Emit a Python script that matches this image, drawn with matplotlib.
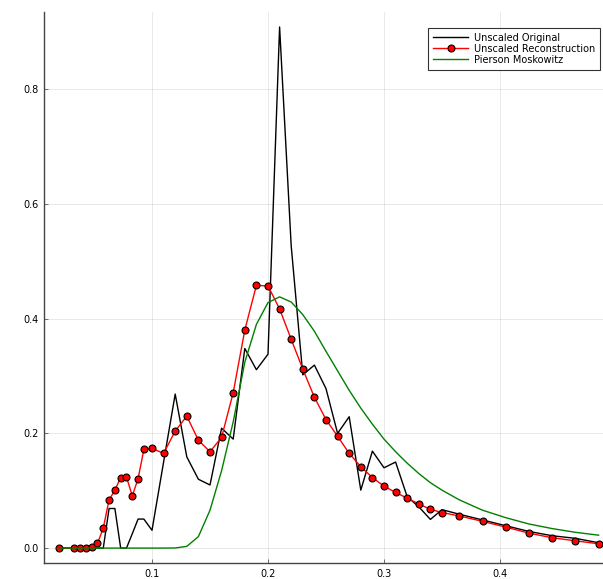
import matplotlib
matplotlib.use("Agg")
import matplotlib.pyplot as plt

freq = [0.02, 0.033, 0.038, 0.043, 0.048, 0.053, 0.058, 0.063, 0.068, 0.073,
        0.078, 0.083, 0.088, 0.093, 0.10, 0.11, 0.12, 0.13, 0.14, 0.15,
        0.16, 0.17, 0.18, 0.19, 0.20, 0.21, 0.22, 0.23, 0.24, 0.25,
        0.26, 0.27, 0.28, 0.29, 0.30, 0.31, 0.32, 0.33, 0.34, 0.35,
        0.365, 0.385, 0.405, 0.425, 0.445, 0.465, 0.485]

original = [0, 0, 0, 0, 0, 0, 0, 0.069, 0.069, 0,
            0, 0.025, 0.0506, 0.0506, 0.031, 0.15, 0.2685, 0.159, 0.120, 0.110,
            0.209, 0.190, 0.348, 0.311, 0.338, 0.9085, 0.527, 0.302, 0.319, 0.278,
            0.200, 0.229, 0.101, 0.169, 0.140, 0.150, 0.0895, 0.072, 0.050, 0.067,
            0.059, 0.049, 0.039, 0.029, 0.0215, 0.017, 0.0093]

reconstruction = [0, 0, 0, 0, 0.002, 0.008, 0.035, 0.084, 0.101, 0.123,
                  0.124, 0.091, 0.121, 0.172, 0.174, 0.165, 0.204, 0.230, 0.188, 0.168,
                  0.193, 0.271, 0.380, 0.458, 0.457, 0.417, 0.364, 0.312, 0.263, 0.224,
                  0.195, 0.165, 0.142, 0.123, 0.108, 0.097, 0.087, 0.077, 0.0675, 0.062,
                  0.056, 0.0466, 0.0366, 0.026, 0.018, 0.0127, 0.0075]

pierson = [0, 0, 0, 0, 0, 0, 0, 0, 0, 0,
           0, 0, 0, 0, 0, 0, 0.0002, 0.003, 0.020, 0.066,
           0.135, 0.220, 0.324, 0.390, 0.428, 0.438, 0.429, 0.407, 0.378, 0.343,
           0.309, 0.275, 0.244, 0.216, 0.190, 0.168, 0.148, 0.130, 0.114, 0.101,
           0.084, 0.066, 0.053, 0.042, 0.034, 0.0275, 0.0225]

xticks = [0.1, 0.2, 0.3, 0.4]
yticks = [0.0, 0.2, 0.4, 0.6, 0.8]

fig = plt.figure(figsize=(6.03, 5.79), dpi=100)
ax = fig.add_axes([44 / 603, 16 / 579, 559 / 603, 551 / 579])

ax.plot(freq, original, color="black", lw=1.0, label="Unscaled Original")
ax.plot(freq, reconstruction, color="red", lw=1.0, marker="o", markersize=5,
        markerfacecolor="red", markeredgecolor="black", markeredgewidth=0.8,
        label="Unscaled Reconstruction")
ax.plot(freq, pierson, color="green", lw=1.0, label="Pierson Moskowitz")

ax.set_xlim(0.0069, 0.4888)
ax.set_ylim(-0.026, 0.9346)
ax.set_xticks(xticks)
ax.set_yticks(yticks)
ax.set_xticklabels([f"{t:.1f}" for t in xticks])
ax.set_yticklabels([f"{t:.1f}" for t in yticks])
ax.tick_params(direction="in", length=3, width=0.6, color="#555555",
               labelsize=7, labelcolor="black", pad=4)
ax.grid(True, color="black", alpha=0.1, lw=0.6)
ax.set_axisbelow(True)
for s in ["top", "right"]:
    ax.spines[s].set_visible(False)
for s in ["left", "bottom"]:
    ax.spines[s].set_color("#444444")
    ax.spines[s].set_linewidth(1.0)

leg = ax.legend(loc="upper right", bbox_to_anchor=(0.995, 0.971), borderaxespad=0,
                fontsize=7, frameon=True, fancybox=False, handlelength=3.6,
                labelspacing=0.1, borderpad=0.5, handletextpad=0.6)
leg.get_frame().set_edgecolor("black")
leg.get_frame().set_linewidth(0.8)

fig.savefig("out.png", dpi=100)
